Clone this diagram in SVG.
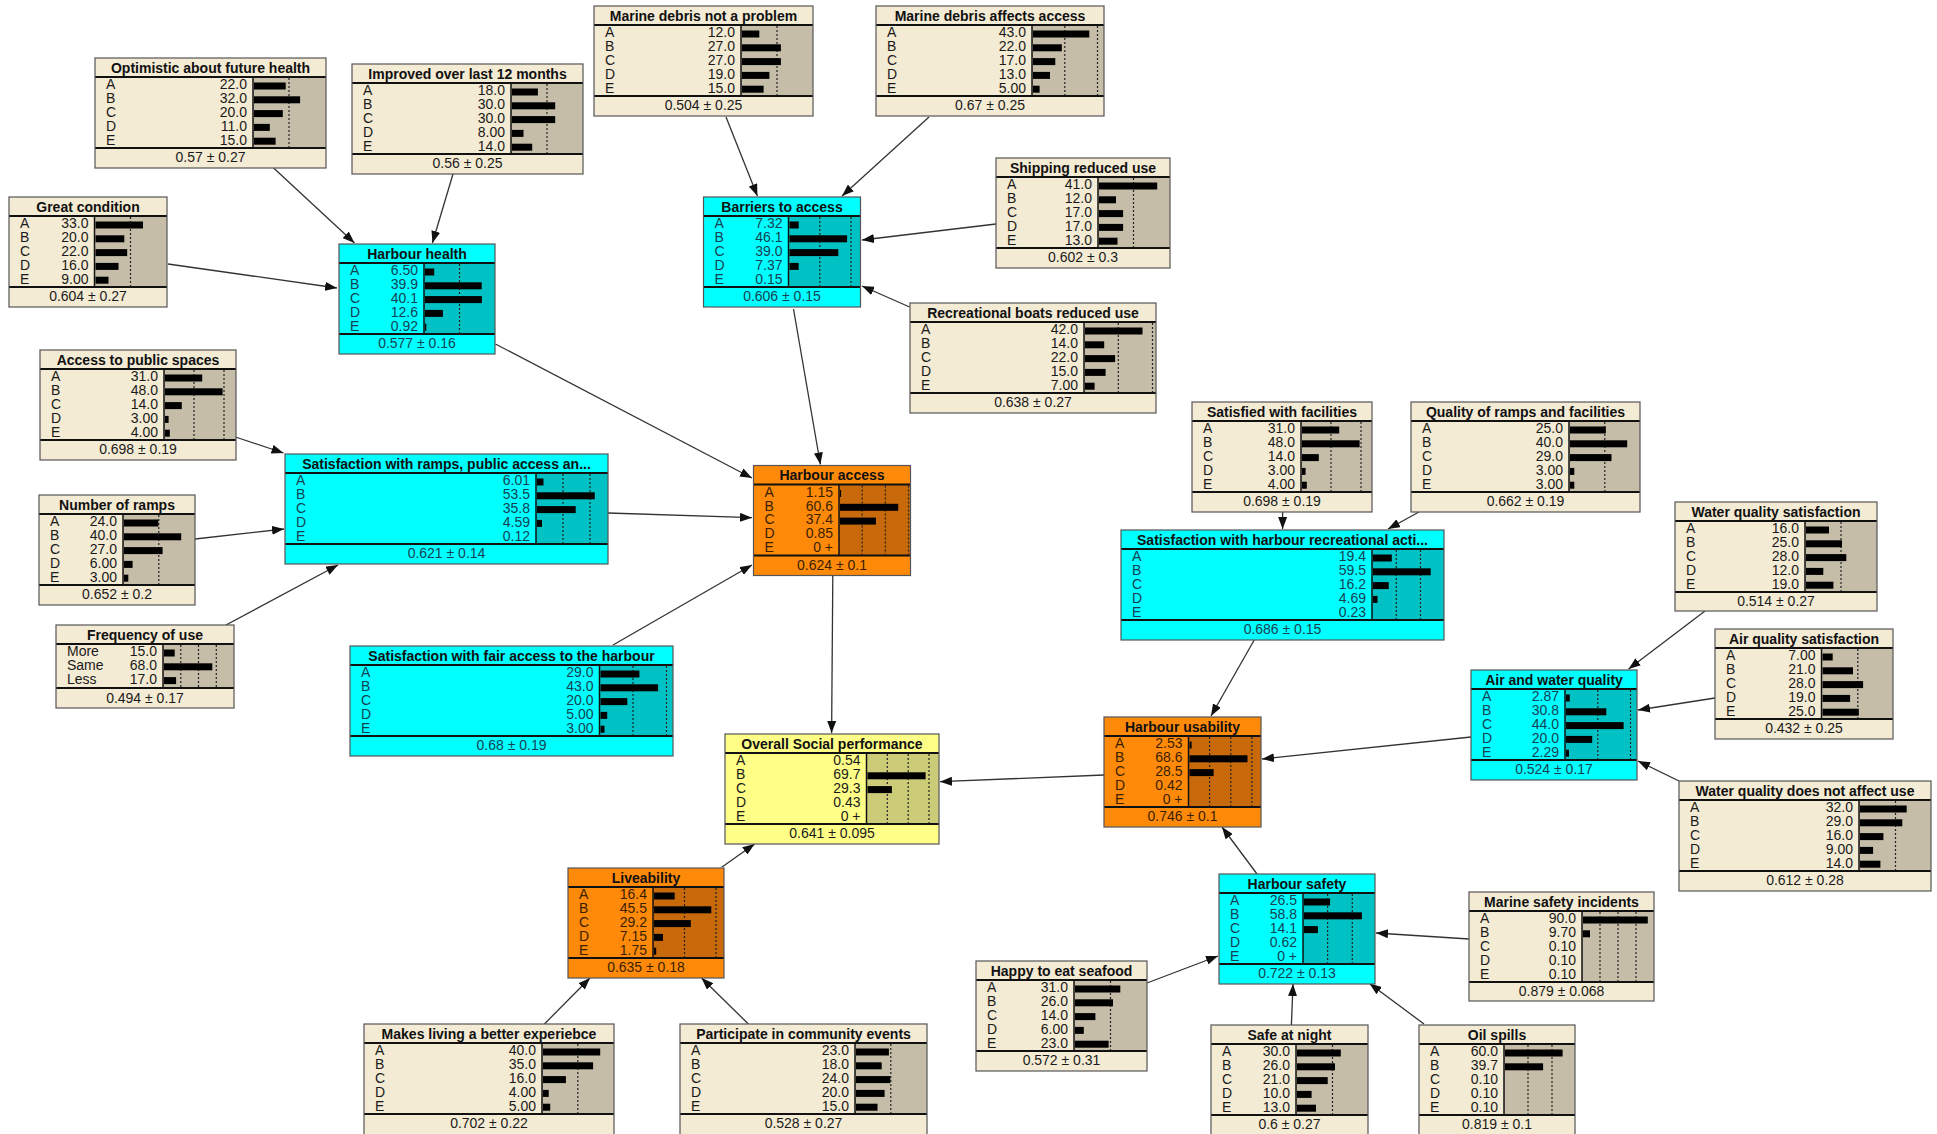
<svg xmlns="http://www.w3.org/2000/svg" width="1937" height="1134" viewBox="0 0 1937 1134">
<defs>
<marker id="arr" markerUnits="userSpaceOnUse" markerWidth="12" markerHeight="9" refX="12" refY="4.5" orient="auto">
<path d="M0,0 L12,4.5 L0,9 z" fill="#111"/>
</marker>
<style>
text{font-family:"Liberation Sans",Arial,sans-serif}
.bb{fill:#f4ebd4}.bc{fill:#00ffff}.bo{fill:#ff8a0a}.by{fill:#ffff88}
.ab{fill:#c6bda9}.ac{fill:#00c2c4}.ao{fill:#c86a0c}.ay{fill:#cccc78}
.ol{fill:none;stroke:#555;stroke-width:1.2}
.sp{stroke:#111;stroke-width:2}
.vl{stroke:#111;stroke-width:1.5}
.g{stroke:#222;stroke-width:1.2;stroke-dasharray:2 2}
.r{fill:#000}
.t{font-size:14px;font-weight:bold;text-anchor:middle;fill:#111}
.s{font-size:14px;fill:#1a1a1a}
.v{font-size:14px;fill:#1a1a1a;text-anchor:end}
.f{font-size:14px;fill:#1a1a1a;text-anchor:middle}
.cy .s,.cy .v,.cy .f{fill:#173f52}
.or .s,.or .v,.or .f{fill:#3a1e00}
.e{stroke:#333;stroke-width:1.3;fill:none;marker-end:url(#arr)}
</style>
</defs>
<rect width="1937" height="1134" fill="#ffffff"/>

<g id="edges">
<line class="e" x1="273.6" y1="168" x2="354.5" y2="243"/>
<line class="e" x1="453" y1="174" x2="432.4" y2="243"/>
<line class="e" x1="168" y1="264" x2="337" y2="288"/>
<line class="e" x1="495.4" y1="344" x2="752" y2="478"/>
<line class="e" x1="726" y1="117" x2="757.4" y2="196"/>
<line class="e" x1="929" y1="117" x2="842" y2="196"/>
<line class="e" x1="996" y1="224" x2="862" y2="240"/>
<line class="e" x1="909.6" y1="307" x2="862" y2="286"/>
<line class="e" x1="793.5" y1="309" x2="820.4" y2="464.5"/>
<line class="e" x1="235.5" y1="437" x2="283.5" y2="453"/>
<line class="e" x1="195" y1="539" x2="284" y2="529"/>
<line class="e" x1="226" y1="625" x2="338" y2="565"/>
<line class="e" x1="608" y1="513" x2="752" y2="517.7"/>
<line class="e" x1="613" y1="645" x2="752" y2="565"/>
<line class="e" x1="832.8" y1="576" x2="831.6" y2="733"/>
<line class="e" x1="722" y1="867" x2="754.6" y2="844"/>
<line class="e" x1="544.4" y1="1024" x2="590" y2="978"/>
<line class="e" x1="748.4" y1="1024" x2="701.5" y2="978"/>
<line class="e" x1="1104" y1="775" x2="940" y2="781.7"/>
<line class="e" x1="1282.6" y1="512" x2="1282.6" y2="529"/>
<line class="e" x1="1419" y1="512" x2="1388" y2="529"/>
<line class="e" x1="1254.8" y1="639" x2="1211" y2="716"/>
<line class="e" x1="1705" y1="611" x2="1628.6" y2="669"/>
<line class="e" x1="1715" y1="698" x2="1638" y2="710"/>
<line class="e" x1="1679" y1="781" x2="1638" y2="761"/>
<line class="e" x1="1471" y1="737" x2="1262" y2="759"/>
<line class="e" x1="1257" y1="874" x2="1222" y2="827"/>
<line class="e" x1="1147" y1="983" x2="1218" y2="956"/>
<line class="e" x1="1291.4" y1="1025" x2="1293" y2="984"/>
<line class="e" x1="1424" y1="1024" x2="1369.5" y2="983.5"/>
<line class="e" x1="1469" y1="939" x2="1376" y2="933"/>
</g>

<g id="n_marine_np" transform="translate(594,6)">
<rect class="bb" width="219" height="110"/>
<rect class="ab" x="147" y="19" width="72" height="71"/>
<line class="g" x1="183" y1="20" x2="183" y2="89"/>
<rect class="r" x="148" y="24.5" width="17.3" height="7"/><rect class="r" x="148" y="38.3" width="38.9" height="7"/><rect class="r" x="148" y="52.1" width="38.9" height="7"/><rect class="r" x="148" y="65.9" width="27.4" height="7"/><rect class="r" x="148" y="79.7" width="21.6" height="7"/>
<line class="sp" x1="0" y1="19" x2="219" y2="19"/><line class="sp" x1="0" y1="90" x2="219" y2="90"/><line class="vl" x1="147" y1="19" x2="147" y2="90"/>
<rect class="ol" width="219" height="110"/>
<text class="t" x="109.5" y="14.5">Marine debris not a problem</text>
<text class="s"><tspan x="11" y="31.3">A</tspan><tspan x="11" y="45.1">B</tspan><tspan x="11" y="58.9">C</tspan><tspan x="11" y="72.7">D</tspan><tspan x="11" y="86.5">E</tspan></text>
<text class="v"><tspan x="141" y="31.3">12.0</tspan><tspan x="141" y="45.1">27.0</tspan><tspan x="141" y="58.9">27.0</tspan><tspan x="141" y="72.7">19.0</tspan><tspan x="141" y="86.5">15.0</tspan></text>
<text class="f" x="109.5" y="104">0.504 ± 0.25</text>
</g>

<g id="n_marine_aff" transform="translate(876,6)">
<rect class="bb" width="228" height="110"/>
<rect class="ab" x="156" y="19" width="72" height="71"/>
<line class="g" x1="188.8" y1="20" x2="188.8" y2="89"/><line class="g" x1="221.5" y1="20" x2="221.5" y2="89"/>
<rect class="r" x="157" y="24.5" width="56.3" height="7"/><rect class="r" x="157" y="38.3" width="28.8" height="7"/><rect class="r" x="157" y="52.1" width="22.3" height="7"/><rect class="r" x="157" y="65.9" width="17" height="7"/><rect class="r" x="157" y="79.7" width="6.6" height="7"/>
<line class="sp" x1="0" y1="19" x2="228" y2="19"/><line class="sp" x1="0" y1="90" x2="228" y2="90"/><line class="vl" x1="156" y1="19" x2="156" y2="90"/>
<rect class="ol" width="228" height="110"/>
<text class="t" x="114" y="14.5">Marine debris affects access</text>
<text class="s"><tspan x="11" y="31.3">A</tspan><tspan x="11" y="45.1">B</tspan><tspan x="11" y="58.9">C</tspan><tspan x="11" y="72.7">D</tspan><tspan x="11" y="86.5">E</tspan></text>
<text class="v"><tspan x="150" y="31.3">43.0</tspan><tspan x="150" y="45.1">22.0</tspan><tspan x="150" y="58.9">17.0</tspan><tspan x="150" y="72.7">13.0</tspan><tspan x="150" y="86.5">5.00</tspan></text>
<text class="f" x="114" y="104">0.67 ± 0.25</text>
</g>

<g id="n_optimistic" transform="translate(95,58)">
<rect class="bb" width="231" height="110"/>
<rect class="ab" x="158" y="19" width="73" height="71"/>
<line class="g" x1="194" y1="20" x2="194" y2="89"/>
<rect class="r" x="159" y="24.5" width="31.7" height="7"/><rect class="r" x="159" y="38.3" width="46.1" height="7"/><rect class="r" x="159" y="52.1" width="28.8" height="7"/><rect class="r" x="159" y="65.9" width="15.8" height="7"/><rect class="r" x="159" y="79.7" width="21.6" height="7"/>
<line class="sp" x1="0" y1="19" x2="231" y2="19"/><line class="sp" x1="0" y1="90" x2="231" y2="90"/><line class="vl" x1="158" y1="19" x2="158" y2="90"/>
<rect class="ol" width="231" height="110"/>
<text class="t" x="115.5" y="14.5">Optimistic about future health</text>
<text class="s"><tspan x="11" y="31.3">A</tspan><tspan x="11" y="45.1">B</tspan><tspan x="11" y="58.9">C</tspan><tspan x="11" y="72.7">D</tspan><tspan x="11" y="86.5">E</tspan></text>
<text class="v"><tspan x="152" y="31.3">22.0</tspan><tspan x="152" y="45.1">32.0</tspan><tspan x="152" y="58.9">20.0</tspan><tspan x="152" y="72.7">11.0</tspan><tspan x="152" y="86.5">15.0</tspan></text>
<text class="f" x="115.5" y="104">0.57 ± 0.27</text>
</g>

<g id="n_improved" transform="translate(352,64)">
<rect class="bb" width="231" height="110"/>
<rect class="ab" x="159" y="19" width="72" height="71"/>
<line class="g" x1="195" y1="20" x2="195" y2="89"/>
<rect class="r" x="160" y="24.5" width="25.9" height="7"/><rect class="r" x="160" y="38.3" width="43.2" height="7"/><rect class="r" x="160" y="52.1" width="43.2" height="7"/><rect class="r" x="160" y="65.9" width="11.5" height="7"/><rect class="r" x="160" y="79.7" width="20.2" height="7"/>
<line class="sp" x1="0" y1="19" x2="231" y2="19"/><line class="sp" x1="0" y1="90" x2="231" y2="90"/><line class="vl" x1="159" y1="19" x2="159" y2="90"/>
<rect class="ol" width="231" height="110"/>
<text class="t" x="115.5" y="14.5">Improved over last 12 months</text>
<text class="s"><tspan x="11" y="31.3">A</tspan><tspan x="11" y="45.1">B</tspan><tspan x="11" y="58.9">C</tspan><tspan x="11" y="72.7">D</tspan><tspan x="11" y="86.5">E</tspan></text>
<text class="v"><tspan x="153" y="31.3">18.0</tspan><tspan x="153" y="45.1">30.0</tspan><tspan x="153" y="58.9">30.0</tspan><tspan x="153" y="72.7">8.00</tspan><tspan x="153" y="86.5">14.0</tspan></text>
<text class="f" x="115.5" y="104">0.56 ± 0.25</text>
</g>

<g id="n_great" transform="translate(9,197)">
<rect class="bb" width="158" height="110"/>
<rect class="ab" x="85.5" y="19" width="72.5" height="71"/>
<line class="g" x1="121.5" y1="20" x2="121.5" y2="89"/>
<rect class="r" x="86.5" y="24.5" width="47.5" height="7"/><rect class="r" x="86.5" y="38.3" width="28.8" height="7"/><rect class="r" x="86.5" y="52.1" width="31.7" height="7"/><rect class="r" x="86.5" y="65.9" width="23" height="7"/><rect class="r" x="86.5" y="79.7" width="13" height="7"/>
<line class="sp" x1="0" y1="19" x2="158" y2="19"/><line class="sp" x1="0" y1="90" x2="158" y2="90"/><line class="vl" x1="85.5" y1="19" x2="85.5" y2="90"/>
<rect class="ol" width="158" height="110"/>
<text class="t" x="79" y="14.5">Great condition</text>
<text class="s"><tspan x="11" y="31.3">A</tspan><tspan x="11" y="45.1">B</tspan><tspan x="11" y="58.9">C</tspan><tspan x="11" y="72.7">D</tspan><tspan x="11" y="86.5">E</tspan></text>
<text class="v"><tspan x="79.5" y="31.3">33.0</tspan><tspan x="79.5" y="45.1">20.0</tspan><tspan x="79.5" y="58.9">22.0</tspan><tspan x="79.5" y="72.7">16.0</tspan><tspan x="79.5" y="86.5">9.00</tspan></text>
<text class="f" x="79" y="104">0.604 ± 0.27</text>
</g>

<g id="n_harbour_health" class="cy" transform="translate(339,244)">
<rect class="bc" width="156" height="110"/>
<rect class="ac" x="85" y="19" width="71" height="71"/>
<line class="g" x1="120.5" y1="20" x2="120.5" y2="89"/>
<rect class="r" x="86" y="24.5" width="9.2" height="7"/><rect class="r" x="86" y="38.3" width="56.7" height="7"/><rect class="r" x="86" y="52.1" width="56.9" height="7"/><rect class="r" x="86" y="65.9" width="17.9" height="7"/><rect class="r" x="86" y="79.7" width="1.3" height="7"/>
<line class="sp" x1="0" y1="19" x2="156" y2="19"/><line class="sp" x1="0" y1="90" x2="156" y2="90"/><line class="vl" x1="85" y1="19" x2="85" y2="90"/>
<rect class="ol" width="156" height="110"/>
<text class="t" x="78" y="14.5">Harbour health</text>
<text class="s"><tspan x="11" y="31.3">A</tspan><tspan x="11" y="45.1">B</tspan><tspan x="11" y="58.9">C</tspan><tspan x="11" y="72.7">D</tspan><tspan x="11" y="86.5">E</tspan></text>
<text class="v"><tspan x="79" y="31.3">6.50</tspan><tspan x="79" y="45.1">39.9</tspan><tspan x="79" y="58.9">40.1</tspan><tspan x="79" y="72.7">12.6</tspan><tspan x="79" y="86.5">0.92</tspan></text>
<text class="f" x="78" y="104">0.577 ± 0.16</text>
</g>

<g id="n_shipping" transform="translate(996,158)">
<rect class="bb" width="174" height="110"/>
<rect class="ab" x="102" y="19" width="72" height="71"/>
<line class="g" x1="137.5" y1="20" x2="137.5" y2="89"/>
<rect class="r" x="103" y="24.5" width="58.2" height="7"/><rect class="r" x="103" y="38.3" width="17" height="7"/><rect class="r" x="103" y="52.1" width="24.1" height="7"/><rect class="r" x="103" y="65.9" width="24.1" height="7"/><rect class="r" x="103" y="79.7" width="18.5" height="7"/>
<line class="sp" x1="0" y1="19" x2="174" y2="19"/><line class="sp" x1="0" y1="90" x2="174" y2="90"/><line class="vl" x1="102" y1="19" x2="102" y2="90"/>
<rect class="ol" width="174" height="110"/>
<text class="t" x="87" y="14.5">Shipping reduced use</text>
<text class="s"><tspan x="11" y="31.3">A</tspan><tspan x="11" y="45.1">B</tspan><tspan x="11" y="58.9">C</tspan><tspan x="11" y="72.7">D</tspan><tspan x="11" y="86.5">E</tspan></text>
<text class="v"><tspan x="96" y="31.3">41.0</tspan><tspan x="96" y="45.1">12.0</tspan><tspan x="96" y="58.9">17.0</tspan><tspan x="96" y="72.7">17.0</tspan><tspan x="96" y="86.5">13.0</tspan></text>
<text class="f" x="87" y="104">0.602 ± 0.3</text>
</g>

<g id="n_barriers" class="cy" transform="translate(703.5,197)">
<rect class="bc" width="157" height="110"/>
<rect class="ac" x="85" y="19" width="72" height="71"/>
<line class="g" x1="116.3" y1="20" x2="116.3" y2="89"/><line class="g" x1="147.5" y1="20" x2="147.5" y2="89"/>
<rect class="r" x="86" y="24.5" width="9.2" height="7"/><rect class="r" x="86" y="38.3" width="57.6" height="7"/><rect class="r" x="86" y="52.1" width="48.8" height="7"/><rect class="r" x="86" y="65.9" width="9.2" height="7"/>
<line class="sp" x1="0" y1="19" x2="157" y2="19"/><line class="sp" x1="0" y1="90" x2="157" y2="90"/><line class="vl" x1="85" y1="19" x2="85" y2="90"/>
<rect class="ol" width="157" height="110"/>
<text class="t" x="78.5" y="14.5">Barriers to access</text>
<text class="s"><tspan x="11" y="31.3">A</tspan><tspan x="11" y="45.1">B</tspan><tspan x="11" y="58.9">C</tspan><tspan x="11" y="72.7">D</tspan><tspan x="11" y="86.5">E</tspan></text>
<text class="v"><tspan x="79" y="31.3">7.32</tspan><tspan x="79" y="45.1">46.1</tspan><tspan x="79" y="58.9">39.0</tspan><tspan x="79" y="72.7">7.37</tspan><tspan x="79" y="86.5">0.15</tspan></text>
<text class="f" x="78.5" y="104">0.606 ± 0.15</text>
</g>

<g id="n_recreational" transform="translate(910,303)">
<rect class="bb" width="246" height="110"/>
<rect class="ab" x="174" y="19" width="72" height="71"/>
<line class="g" x1="208.3" y1="20" x2="208.3" y2="89"/><line class="g" x1="242.5" y1="20" x2="242.5" y2="89"/>
<rect class="r" x="175" y="24.5" width="57.5" height="7"/><rect class="r" x="175" y="38.3" width="19.2" height="7"/><rect class="r" x="175" y="52.1" width="30.1" height="7"/><rect class="r" x="175" y="65.9" width="20.6" height="7"/><rect class="r" x="175" y="79.7" width="9.6" height="7"/>
<line class="sp" x1="0" y1="19" x2="246" y2="19"/><line class="sp" x1="0" y1="90" x2="246" y2="90"/><line class="vl" x1="174" y1="19" x2="174" y2="90"/>
<rect class="ol" width="246" height="110"/>
<text class="t" x="123" y="14.5">Recreational boats reduced use</text>
<text class="s"><tspan x="11" y="31.3">A</tspan><tspan x="11" y="45.1">B</tspan><tspan x="11" y="58.9">C</tspan><tspan x="11" y="72.7">D</tspan><tspan x="11" y="86.5">E</tspan></text>
<text class="v"><tspan x="168" y="31.3">42.0</tspan><tspan x="168" y="45.1">14.0</tspan><tspan x="168" y="58.9">22.0</tspan><tspan x="168" y="72.7">15.0</tspan><tspan x="168" y="86.5">7.00</tspan></text>
<text class="f" x="123" y="104">0.638 ± 0.27</text>
</g>

<g id="n_access_public" transform="translate(40,350)">
<rect class="bb" width="196" height="110"/>
<rect class="ab" x="124" y="19" width="72" height="71"/>
<line class="g" x1="154" y1="20" x2="154" y2="89"/><line class="g" x1="184" y1="20" x2="184" y2="89"/>
<rect class="r" x="125" y="24.5" width="37.2" height="7"/><rect class="r" x="125" y="38.3" width="57.6" height="7"/><rect class="r" x="125" y="52.1" width="16.8" height="7"/><rect class="r" x="125" y="65.9" width="3.6" height="7"/><rect class="r" x="125" y="79.7" width="4.8" height="7"/>
<line class="sp" x1="0" y1="19" x2="196" y2="19"/><line class="sp" x1="0" y1="90" x2="196" y2="90"/><line class="vl" x1="124" y1="19" x2="124" y2="90"/>
<rect class="ol" width="196" height="110"/>
<text class="t" x="98" y="14.5">Access to public spaces</text>
<text class="s"><tspan x="11" y="31.3">A</tspan><tspan x="11" y="45.1">B</tspan><tspan x="11" y="58.9">C</tspan><tspan x="11" y="72.7">D</tspan><tspan x="11" y="86.5">E</tspan></text>
<text class="v"><tspan x="118" y="31.3">31.0</tspan><tspan x="118" y="45.1">48.0</tspan><tspan x="118" y="58.9">14.0</tspan><tspan x="118" y="72.7">3.00</tspan><tspan x="118" y="86.5">4.00</tspan></text>
<text class="f" x="98" y="104">0.698 ± 0.19</text>
</g>

<g id="n_sat_ramps" class="cy" transform="translate(285,454)">
<rect class="bc" width="323" height="110"/>
<rect class="ac" x="251" y="19" width="72" height="71"/>
<line class="g" x1="278" y1="20" x2="278" y2="89"/><line class="g" x1="305" y1="20" x2="305" y2="89"/>
<rect class="r" x="252" y="24.5" width="6.5" height="7"/><rect class="r" x="252" y="38.3" width="57.8" height="7"/><rect class="r" x="252" y="52.1" width="38.7" height="7"/><rect class="r" x="252" y="65.9" width="5" height="7"/>
<line class="sp" x1="0" y1="19" x2="323" y2="19"/><line class="sp" x1="0" y1="90" x2="323" y2="90"/><line class="vl" x1="251" y1="19" x2="251" y2="90"/>
<rect class="ol" width="323" height="110"/>
<text class="t" x="161.5" y="14.5">Satisfaction with ramps, public access an...</text>
<text class="s"><tspan x="11" y="31.3">A</tspan><tspan x="11" y="45.1">B</tspan><tspan x="11" y="58.9">C</tspan><tspan x="11" y="72.7">D</tspan><tspan x="11" y="86.5">E</tspan></text>
<text class="v"><tspan x="245" y="31.3">6.01</tspan><tspan x="245" y="45.1">53.5</tspan><tspan x="245" y="58.9">35.8</tspan><tspan x="245" y="72.7">4.59</tspan><tspan x="245" y="86.5">0.12</tspan></text>
<text class="f" x="161.5" y="104">0.621 ± 0.14</text>
</g>

<g id="n_num_ramps" transform="translate(39,495)">
<rect class="bb" width="156" height="110"/>
<rect class="ab" x="84" y="19" width="72" height="71"/>
<line class="g" x1="119.8" y1="20" x2="119.8" y2="89"/>
<rect class="r" x="85" y="24.5" width="34.3" height="7"/><rect class="r" x="85" y="38.3" width="57.2" height="7"/><rect class="r" x="85" y="52.1" width="38.6" height="7"/><rect class="r" x="85" y="65.9" width="8.6" height="7"/><rect class="r" x="85" y="79.7" width="4.3" height="7"/>
<line class="sp" x1="0" y1="19" x2="156" y2="19"/><line class="sp" x1="0" y1="90" x2="156" y2="90"/><line class="vl" x1="84" y1="19" x2="84" y2="90"/>
<rect class="ol" width="156" height="110"/>
<text class="t" x="78" y="14.5">Number of ramps</text>
<text class="s"><tspan x="11" y="31.3">A</tspan><tspan x="11" y="45.1">B</tspan><tspan x="11" y="58.9">C</tspan><tspan x="11" y="72.7">D</tspan><tspan x="11" y="86.5">E</tspan></text>
<text class="v"><tspan x="78" y="31.3">24.0</tspan><tspan x="78" y="45.1">40.0</tspan><tspan x="78" y="58.9">27.0</tspan><tspan x="78" y="72.7">6.00</tspan><tspan x="78" y="86.5">3.00</tspan></text>
<text class="f" x="78" y="104">0.652 ± 0.2</text>
</g>

<g id="n_frequency" transform="translate(56,625)">
<rect class="bb" width="178" height="83"/>
<rect class="ab" x="107" y="19" width="71" height="44"/>
<line class="g" x1="124.8" y1="20" x2="124.8" y2="62"/><line class="g" x1="142.5" y1="20" x2="142.5" y2="62"/><line class="g" x1="160.3" y1="20" x2="160.3" y2="62"/>
<rect class="r" x="108" y="24.5" width="10.7" height="7"/><rect class="r" x="108" y="38.3" width="48.3" height="7"/><rect class="r" x="108" y="52.1" width="12.1" height="7"/>
<line class="sp" x1="0" y1="19" x2="178" y2="19"/><line class="sp" x1="0" y1="63" x2="178" y2="63"/><line class="vl" x1="107" y1="19" x2="107" y2="63"/>
<rect class="ol" width="178" height="83"/>
<text class="t" x="89" y="14.5">Frequency of use</text>
<text class="s"><tspan x="11" y="31.3">More</tspan><tspan x="11" y="45.1">Same</tspan><tspan x="11" y="58.9">Less</tspan></text>
<text class="v"><tspan x="101" y="31.3">15.0</tspan><tspan x="101" y="45.1">68.0</tspan><tspan x="101" y="58.9">17.0</tspan></text>
<text class="f" x="89" y="77.5">0.494 ± 0.17</text>
</g>

<g id="n_fair_access" class="cy" transform="translate(350,646)">
<rect class="bc" width="323" height="110"/>
<rect class="ac" x="249.5" y="19" width="73.5" height="71"/>
<line class="g" x1="283" y1="20" x2="283" y2="89"/><line class="g" x1="316.5" y1="20" x2="316.5" y2="89"/>
<rect class="r" x="250.5" y="24.5" width="38.9" height="7"/><rect class="r" x="250.5" y="38.3" width="57.6" height="7"/><rect class="r" x="250.5" y="52.1" width="26.8" height="7"/><rect class="r" x="250.5" y="65.9" width="6.7" height="7"/><rect class="r" x="250.5" y="79.7" width="4" height="7"/>
<line class="sp" x1="0" y1="19" x2="323" y2="19"/><line class="sp" x1="0" y1="90" x2="323" y2="90"/><line class="vl" x1="249.5" y1="19" x2="249.5" y2="90"/>
<rect class="ol" width="323" height="110"/>
<text class="t" x="161.5" y="14.5">Satisfaction with fair access to the harbour</text>
<text class="s"><tspan x="11" y="31.3">A</tspan><tspan x="11" y="45.1">B</tspan><tspan x="11" y="58.9">C</tspan><tspan x="11" y="72.7">D</tspan><tspan x="11" y="86.5">E</tspan></text>
<text class="v"><tspan x="243.5" y="31.3">29.0</tspan><tspan x="243.5" y="45.1">43.0</tspan><tspan x="243.5" y="58.9">20.0</tspan><tspan x="243.5" y="72.7">5.00</tspan><tspan x="243.5" y="86.5">3.00</tspan></text>
<text class="f" x="161.5" y="104">0.68 ± 0.19</text>
</g>

<g id="n_harbour_access" class="or" transform="translate(753.5,465.5)">
<rect class="bo" width="157" height="110"/>
<rect class="ao" x="85.5" y="19" width="71.5" height="71"/>
<line class="g" x1="108.7" y1="20" x2="108.7" y2="89"/><line class="g" x1="131.9" y1="20" x2="131.9" y2="89"/><line class="g" x1="155" y1="20" x2="155" y2="89"/>
<rect class="r" x="86.5" y="24.5" width="1.1" height="7"/><rect class="r" x="86.5" y="38.3" width="58.2" height="7"/><rect class="r" x="86.5" y="52.1" width="35.9" height="7"/>
<line class="sp" x1="0" y1="19" x2="157" y2="19"/><line class="sp" x1="0" y1="90" x2="157" y2="90"/><line class="vl" x1="85.5" y1="19" x2="85.5" y2="90"/>
<rect class="ol" width="157" height="110"/>
<text class="t" x="78.5" y="14.5">Harbour access</text>
<text class="s"><tspan x="11" y="31.3">A</tspan><tspan x="11" y="45.1">B</tspan><tspan x="11" y="58.9">C</tspan><tspan x="11" y="72.7">D</tspan><tspan x="11" y="86.5">E</tspan></text>
<text class="v"><tspan x="79.5" y="31.3">1.15</tspan><tspan x="79.5" y="45.1">60.6</tspan><tspan x="79.5" y="58.9">37.4</tspan><tspan x="79.5" y="72.7">0.85</tspan><tspan x="79.5" y="86.5">0 +</tspan></text>
<text class="f" x="78.5" y="104">0.624 ± 0.1</text>
</g>

<g id="n_overall" transform="translate(725,734)">
<rect class="by" width="214" height="110"/>
<rect class="ay" x="141.5" y="19" width="72.5" height="71"/>
<line class="g" x1="162.3" y1="20" x2="162.3" y2="89"/><line class="g" x1="183.2" y1="20" x2="183.2" y2="89"/><line class="g" x1="204" y1="20" x2="204" y2="89"/>
<rect class="r" x="142.5" y="38.3" width="58.1" height="7"/><rect class="r" x="142.5" y="52.1" width="24.4" height="7"/>
<line class="sp" x1="0" y1="19" x2="214" y2="19"/><line class="sp" x1="0" y1="90" x2="214" y2="90"/><line class="vl" x1="141.5" y1="19" x2="141.5" y2="90"/>
<rect class="ol" width="214" height="110"/>
<text class="t" x="107" y="14.5">Overall Social performance</text>
<text class="s"><tspan x="11" y="31.3">A</tspan><tspan x="11" y="45.1">B</tspan><tspan x="11" y="58.9">C</tspan><tspan x="11" y="72.7">D</tspan><tspan x="11" y="86.5">E</tspan></text>
<text class="v"><tspan x="135.5" y="31.3">0.54</tspan><tspan x="135.5" y="45.1">69.7</tspan><tspan x="135.5" y="58.9">29.3</tspan><tspan x="135.5" y="72.7">0.43</tspan><tspan x="135.5" y="86.5">0 +</tspan></text>
<text class="f" x="107" y="104">0.641 ± 0.095</text>
</g>

<g id="n_liveability" class="or" transform="translate(568,868)">
<rect class="bo" width="156" height="110"/>
<rect class="ao" x="85" y="19" width="71" height="71"/>
<line class="g" x1="116.5" y1="20" x2="116.5" y2="89"/><line class="g" x1="148" y1="20" x2="148" y2="89"/>
<rect class="r" x="86" y="24.5" width="20.7" height="7"/><rect class="r" x="86" y="38.3" width="57.3" height="7"/><rect class="r" x="86" y="52.1" width="36.8" height="7"/><rect class="r" x="86" y="65.9" width="9" height="7"/><rect class="r" x="86" y="79.7" width="2.2" height="7"/>
<line class="sp" x1="0" y1="19" x2="156" y2="19"/><line class="sp" x1="0" y1="90" x2="156" y2="90"/><line class="vl" x1="85" y1="19" x2="85" y2="90"/>
<rect class="ol" width="156" height="110"/>
<text class="t" x="78" y="14.5">Liveability</text>
<text class="s"><tspan x="11" y="31.3">A</tspan><tspan x="11" y="45.1">B</tspan><tspan x="11" y="58.9">C</tspan><tspan x="11" y="72.7">D</tspan><tspan x="11" y="86.5">E</tspan></text>
<text class="v"><tspan x="79" y="31.3">16.4</tspan><tspan x="79" y="45.1">45.5</tspan><tspan x="79" y="58.9">29.2</tspan><tspan x="79" y="72.7">7.15</tspan><tspan x="79" y="86.5">1.75</tspan></text>
<text class="f" x="78" y="104">0.635 ± 0.18</text>
</g>

<g id="n_makes_living" transform="translate(364,1024)">
<rect class="bb" width="250" height="114"/>
<rect class="ab" x="178" y="19" width="72" height="71"/>
<line class="g" x1="213.8" y1="20" x2="213.8" y2="89"/>
<rect class="r" x="179" y="24.5" width="57.2" height="7"/><rect class="r" x="179" y="38.3" width="50.1" height="7"/><rect class="r" x="179" y="52.1" width="22.9" height="7"/><rect class="r" x="179" y="65.9" width="5.7" height="7"/><rect class="r" x="179" y="79.7" width="7.2" height="7"/>
<line class="sp" x1="0" y1="19" x2="250" y2="19"/><line class="sp" x1="0" y1="90" x2="250" y2="90"/><line class="vl" x1="178" y1="19" x2="178" y2="90"/>
<rect class="ol" width="250" height="114"/>
<text class="t" x="125" y="14.5">Makes living a better experiebce</text>
<text class="s"><tspan x="11" y="31.3">A</tspan><tspan x="11" y="45.1">B</tspan><tspan x="11" y="58.9">C</tspan><tspan x="11" y="72.7">D</tspan><tspan x="11" y="86.5">E</tspan></text>
<text class="v"><tspan x="172" y="31.3">40.0</tspan><tspan x="172" y="45.1">35.0</tspan><tspan x="172" y="58.9">16.0</tspan><tspan x="172" y="72.7">4.00</tspan><tspan x="172" y="86.5">5.00</tspan></text>
<text class="f" x="125" y="104">0.702 ± 0.22</text>
</g>

<g id="n_participate" transform="translate(680,1024)">
<rect class="bb" width="247" height="114"/>
<rect class="ab" x="175" y="19" width="72" height="71"/>
<line class="g" x1="210.8" y1="20" x2="210.8" y2="89"/>
<rect class="r" x="176" y="24.5" width="32.9" height="7"/><rect class="r" x="176" y="38.3" width="25.7" height="7"/><rect class="r" x="176" y="52.1" width="34.3" height="7"/><rect class="r" x="176" y="65.9" width="28.6" height="7"/><rect class="r" x="176" y="79.7" width="21.5" height="7"/>
<line class="sp" x1="0" y1="19" x2="247" y2="19"/><line class="sp" x1="0" y1="90" x2="247" y2="90"/><line class="vl" x1="175" y1="19" x2="175" y2="90"/>
<rect class="ol" width="247" height="114"/>
<text class="t" x="123.5" y="14.5">Participate in community events</text>
<text class="s"><tspan x="11" y="31.3">A</tspan><tspan x="11" y="45.1">B</tspan><tspan x="11" y="58.9">C</tspan><tspan x="11" y="72.7">D</tspan><tspan x="11" y="86.5">E</tspan></text>
<text class="v"><tspan x="169" y="31.3">23.0</tspan><tspan x="169" y="45.1">18.0</tspan><tspan x="169" y="58.9">24.0</tspan><tspan x="169" y="72.7">20.0</tspan><tspan x="169" y="86.5">15.0</tspan></text>
<text class="f" x="123.5" y="104">0.528 ± 0.27</text>
</g>

<g id="n_sat_facilities" transform="translate(1192,402)">
<rect class="bb" width="180" height="110"/>
<rect class="ab" x="109" y="19" width="71" height="71"/>
<line class="g" x1="139" y1="20" x2="139" y2="89"/><line class="g" x1="169" y1="20" x2="169" y2="89"/>
<rect class="r" x="110" y="24.5" width="37.2" height="7"/><rect class="r" x="110" y="38.3" width="57.6" height="7"/><rect class="r" x="110" y="52.1" width="16.8" height="7"/><rect class="r" x="110" y="65.9" width="3.6" height="7"/><rect class="r" x="110" y="79.7" width="4.8" height="7"/>
<line class="sp" x1="0" y1="19" x2="180" y2="19"/><line class="sp" x1="0" y1="90" x2="180" y2="90"/><line class="vl" x1="109" y1="19" x2="109" y2="90"/>
<rect class="ol" width="180" height="110"/>
<text class="t" x="90" y="14.5">Satisfied with facilities</text>
<text class="s"><tspan x="11" y="31.3">A</tspan><tspan x="11" y="45.1">B</tspan><tspan x="11" y="58.9">C</tspan><tspan x="11" y="72.7">D</tspan><tspan x="11" y="86.5">E</tspan></text>
<text class="v"><tspan x="103" y="31.3">31.0</tspan><tspan x="103" y="45.1">48.0</tspan><tspan x="103" y="58.9">14.0</tspan><tspan x="103" y="72.7">3.00</tspan><tspan x="103" y="86.5">4.00</tspan></text>
<text class="f" x="90" y="104">0.698 ± 0.19</text>
</g>

<g id="n_quality_ramps" transform="translate(1411,402)">
<rect class="bb" width="229" height="110"/>
<rect class="ab" x="158" y="19" width="71" height="71"/>
<line class="g" x1="193.8" y1="20" x2="193.8" y2="89"/>
<rect class="r" x="159" y="24.5" width="35.8" height="7"/><rect class="r" x="159" y="38.3" width="57.2" height="7"/><rect class="r" x="159" y="52.1" width="41.5" height="7"/><rect class="r" x="159" y="65.9" width="4.3" height="7"/><rect class="r" x="159" y="79.7" width="4.3" height="7"/>
<line class="sp" x1="0" y1="19" x2="229" y2="19"/><line class="sp" x1="0" y1="90" x2="229" y2="90"/><line class="vl" x1="158" y1="19" x2="158" y2="90"/>
<rect class="ol" width="229" height="110"/>
<text class="t" x="114.5" y="14.5">Quality of ramps and facilities</text>
<text class="s"><tspan x="11" y="31.3">A</tspan><tspan x="11" y="45.1">B</tspan><tspan x="11" y="58.9">C</tspan><tspan x="11" y="72.7">D</tspan><tspan x="11" y="86.5">E</tspan></text>
<text class="v"><tspan x="152" y="31.3">25.0</tspan><tspan x="152" y="45.1">40.0</tspan><tspan x="152" y="58.9">29.0</tspan><tspan x="152" y="72.7">3.00</tspan><tspan x="152" y="86.5">3.00</tspan></text>
<text class="f" x="114.5" y="104">0.662 ± 0.19</text>
</g>

<g id="n_water_sat" transform="translate(1675,502)">
<rect class="bb" width="202" height="109"/>
<rect class="ab" x="130" y="19" width="72" height="71"/>
<line class="g" x1="166" y1="20" x2="166" y2="89"/>
<rect class="r" x="131" y="24.5" width="23" height="7"/><rect class="r" x="131" y="38.3" width="36" height="7"/><rect class="r" x="131" y="52.1" width="40.3" height="7"/><rect class="r" x="131" y="65.9" width="17.3" height="7"/><rect class="r" x="131" y="79.7" width="27.4" height="7"/>
<line class="sp" x1="0" y1="19" x2="202" y2="19"/><line class="sp" x1="0" y1="90" x2="202" y2="90"/><line class="vl" x1="130" y1="19" x2="130" y2="90"/>
<rect class="ol" width="202" height="109"/>
<text class="t" x="101" y="14.5">Water quality satisfaction</text>
<text class="s"><tspan x="11" y="31.3">A</tspan><tspan x="11" y="45.1">B</tspan><tspan x="11" y="58.9">C</tspan><tspan x="11" y="72.7">D</tspan><tspan x="11" y="86.5">E</tspan></text>
<text class="v"><tspan x="124" y="31.3">16.0</tspan><tspan x="124" y="45.1">25.0</tspan><tspan x="124" y="58.9">28.0</tspan><tspan x="124" y="72.7">12.0</tspan><tspan x="124" y="86.5">19.0</tspan></text>
<text class="f" x="101" y="104">0.514 ± 0.27</text>
</g>

<g id="n_sat_rec" class="cy" transform="translate(1121,530)">
<rect class="bc" width="323" height="110"/>
<rect class="ac" x="251" y="19" width="72" height="71"/>
<line class="g" x1="275.3" y1="20" x2="275.3" y2="89"/><line class="g" x1="299.5" y1="20" x2="299.5" y2="89"/>
<rect class="r" x="252" y="24.5" width="18.8" height="7"/><rect class="r" x="252" y="38.3" width="57.7" height="7"/><rect class="r" x="252" y="52.1" width="15.7" height="7"/><rect class="r" x="252" y="65.9" width="4.5" height="7"/>
<line class="sp" x1="0" y1="19" x2="323" y2="19"/><line class="sp" x1="0" y1="90" x2="323" y2="90"/><line class="vl" x1="251" y1="19" x2="251" y2="90"/>
<rect class="ol" width="323" height="110"/>
<text class="t" x="161.5" y="14.5">Satisfaction with harbour recreational acti...</text>
<text class="s"><tspan x="11" y="31.3">A</tspan><tspan x="11" y="45.1">B</tspan><tspan x="11" y="58.9">C</tspan><tspan x="11" y="72.7">D</tspan><tspan x="11" y="86.5">E</tspan></text>
<text class="v"><tspan x="245" y="31.3">19.4</tspan><tspan x="245" y="45.1">59.5</tspan><tspan x="245" y="58.9">16.2</tspan><tspan x="245" y="72.7">4.69</tspan><tspan x="245" y="86.5">0.23</tspan></text>
<text class="f" x="161.5" y="104">0.686 ± 0.15</text>
</g>

<g id="n_air_sat" transform="translate(1715,629)">
<rect class="bb" width="178" height="110"/>
<rect class="ab" x="106.5" y="19" width="71.5" height="71"/>
<line class="g" x1="142.8" y1="20" x2="142.8" y2="89"/>
<rect class="r" x="107.5" y="24.5" width="10.2" height="7"/><rect class="r" x="107.5" y="38.3" width="30.5" height="7"/><rect class="r" x="107.5" y="52.1" width="40.6" height="7"/><rect class="r" x="107.5" y="65.9" width="27.6" height="7"/><rect class="r" x="107.5" y="79.7" width="36.3" height="7"/>
<line class="sp" x1="0" y1="19" x2="178" y2="19"/><line class="sp" x1="0" y1="90" x2="178" y2="90"/><line class="vl" x1="106.5" y1="19" x2="106.5" y2="90"/>
<rect class="ol" width="178" height="110"/>
<text class="t" x="89" y="14.5">Air quality satisfaction</text>
<text class="s"><tspan x="11" y="31.3">A</tspan><tspan x="11" y="45.1">B</tspan><tspan x="11" y="58.9">C</tspan><tspan x="11" y="72.7">D</tspan><tspan x="11" y="86.5">E</tspan></text>
<text class="v"><tspan x="100.5" y="31.3">7.00</tspan><tspan x="100.5" y="45.1">21.0</tspan><tspan x="100.5" y="58.9">28.0</tspan><tspan x="100.5" y="72.7">19.0</tspan><tspan x="100.5" y="86.5">25.0</tspan></text>
<text class="f" x="89" y="104">0.432 ± 0.25</text>
</g>

<g id="n_air_water" class="cy" transform="translate(1471,670)">
<rect class="bc" width="166" height="110"/>
<rect class="ac" x="94" y="19" width="72" height="71"/>
<line class="g" x1="126.8" y1="20" x2="126.8" y2="89"/><line class="g" x1="159.5" y1="20" x2="159.5" y2="89"/>
<rect class="r" x="95" y="24.5" width="3.8" height="7"/><rect class="r" x="95" y="38.3" width="40.3" height="7"/><rect class="r" x="95" y="52.1" width="57.6" height="7"/><rect class="r" x="95" y="65.9" width="26.2" height="7"/><rect class="r" x="95" y="79.7" width="3" height="7"/>
<line class="sp" x1="0" y1="19" x2="166" y2="19"/><line class="sp" x1="0" y1="90" x2="166" y2="90"/><line class="vl" x1="94" y1="19" x2="94" y2="90"/>
<rect class="ol" width="166" height="110"/>
<text class="t" x="83" y="14.5">Air and water quality</text>
<text class="s"><tspan x="11" y="31.3">A</tspan><tspan x="11" y="45.1">B</tspan><tspan x="11" y="58.9">C</tspan><tspan x="11" y="72.7">D</tspan><tspan x="11" y="86.5">E</tspan></text>
<text class="v"><tspan x="88" y="31.3">2.87</tspan><tspan x="88" y="45.1">30.8</tspan><tspan x="88" y="58.9">44.0</tspan><tspan x="88" y="72.7">20.0</tspan><tspan x="88" y="86.5">2.29</tspan></text>
<text class="f" x="83" y="104">0.524 ± 0.17</text>
</g>

<g id="n_water_not" transform="translate(1679,781)">
<rect class="bb" width="252" height="110"/>
<rect class="ab" x="180" y="19" width="72" height="71"/>
<line class="g" x1="216.5" y1="20" x2="216.5" y2="89"/>
<rect class="r" x="181" y="24.5" width="46.7" height="7"/><rect class="r" x="181" y="38.3" width="42.3" height="7"/><rect class="r" x="181" y="52.1" width="23.4" height="7"/><rect class="r" x="181" y="65.9" width="13.1" height="7"/><rect class="r" x="181" y="79.7" width="20.4" height="7"/>
<line class="sp" x1="0" y1="19" x2="252" y2="19"/><line class="sp" x1="0" y1="90" x2="252" y2="90"/><line class="vl" x1="180" y1="19" x2="180" y2="90"/>
<rect class="ol" width="252" height="110"/>
<text class="t" x="126" y="14.5">Water quality does not affect use</text>
<text class="s"><tspan x="11" y="31.3">A</tspan><tspan x="11" y="45.1">B</tspan><tspan x="11" y="58.9">C</tspan><tspan x="11" y="72.7">D</tspan><tspan x="11" y="86.5">E</tspan></text>
<text class="v"><tspan x="174" y="31.3">32.0</tspan><tspan x="174" y="45.1">29.0</tspan><tspan x="174" y="58.9">16.0</tspan><tspan x="174" y="72.7">9.00</tspan><tspan x="174" y="86.5">14.0</tspan></text>
<text class="f" x="126" y="104">0.612 ± 0.28</text>
</g>

<g id="n_usability" class="or" transform="translate(1104,717)">
<rect class="bo" width="157" height="110"/>
<rect class="ao" x="84.5" y="19" width="72.5" height="71"/>
<line class="g" x1="105.6" y1="20" x2="105.6" y2="89"/><line class="g" x1="126.8" y1="20" x2="126.8" y2="89"/><line class="g" x1="147.9" y1="20" x2="147.9" y2="89"/>
<rect class="r" x="85.5" y="24.5" width="2.1" height="7"/><rect class="r" x="85.5" y="38.3" width="58" height="7"/><rect class="r" x="85.5" y="52.1" width="24.1" height="7"/>
<line class="sp" x1="0" y1="19" x2="157" y2="19"/><line class="sp" x1="0" y1="90" x2="157" y2="90"/><line class="vl" x1="84.5" y1="19" x2="84.5" y2="90"/>
<rect class="ol" width="157" height="110"/>
<text class="t" x="78.5" y="14.5">Harbour usability</text>
<text class="s"><tspan x="11" y="31.3">A</tspan><tspan x="11" y="45.1">B</tspan><tspan x="11" y="58.9">C</tspan><tspan x="11" y="72.7">D</tspan><tspan x="11" y="86.5">E</tspan></text>
<text class="v"><tspan x="78.5" y="31.3">2.53</tspan><tspan x="78.5" y="45.1">68.6</tspan><tspan x="78.5" y="58.9">28.5</tspan><tspan x="78.5" y="72.7">0.42</tspan><tspan x="78.5" y="86.5">0 +</tspan></text>
<text class="f" x="78.5" y="104">0.746 ± 0.1</text>
</g>

<g id="n_safety" class="cy" transform="translate(1219,874)">
<rect class="bc" width="156" height="110"/>
<rect class="ac" x="84" y="19" width="72" height="71"/>
<line class="g" x1="108.6" y1="20" x2="108.6" y2="89"/><line class="g" x1="133.3" y1="20" x2="133.3" y2="89"/>
<rect class="r" x="85" y="24.5" width="26.1" height="7"/><rect class="r" x="85" y="38.3" width="57.9" height="7"/><rect class="r" x="85" y="52.1" width="13.9" height="7"/>
<line class="sp" x1="0" y1="19" x2="156" y2="19"/><line class="sp" x1="0" y1="90" x2="156" y2="90"/><line class="vl" x1="84" y1="19" x2="84" y2="90"/>
<rect class="ol" width="156" height="110"/>
<text class="t" x="78" y="14.5">Harbour safety</text>
<text class="s"><tspan x="11" y="31.3">A</tspan><tspan x="11" y="45.1">B</tspan><tspan x="11" y="58.9">C</tspan><tspan x="11" y="72.7">D</tspan><tspan x="11" y="86.5">E</tspan></text>
<text class="v"><tspan x="78" y="31.3">26.5</tspan><tspan x="78" y="45.1">58.8</tspan><tspan x="78" y="58.9">14.1</tspan><tspan x="78" y="72.7">0.62</tspan><tspan x="78" y="86.5">0 +</tspan></text>
<text class="f" x="78" y="104">0.722 ± 0.13</text>
</g>

<g id="n_seafood" transform="translate(976,961)">
<rect class="bb" width="171" height="110"/>
<rect class="ab" x="98" y="19" width="73" height="71"/>
<line class="g" x1="134.5" y1="20" x2="134.5" y2="89"/>
<rect class="r" x="99" y="24.5" width="45.3" height="7"/><rect class="r" x="99" y="38.3" width="38" height="7"/><rect class="r" x="99" y="52.1" width="20.4" height="7"/><rect class="r" x="99" y="65.9" width="8.8" height="7"/><rect class="r" x="99" y="79.7" width="33.6" height="7"/>
<line class="sp" x1="0" y1="19" x2="171" y2="19"/><line class="sp" x1="0" y1="90" x2="171" y2="90"/><line class="vl" x1="98" y1="19" x2="98" y2="90"/>
<rect class="ol" width="171" height="110"/>
<text class="t" x="85.5" y="14.5">Happy to eat seafood</text>
<text class="s"><tspan x="11" y="31.3">A</tspan><tspan x="11" y="45.1">B</tspan><tspan x="11" y="58.9">C</tspan><tspan x="11" y="72.7">D</tspan><tspan x="11" y="86.5">E</tspan></text>
<text class="v"><tspan x="92" y="31.3">31.0</tspan><tspan x="92" y="45.1">26.0</tspan><tspan x="92" y="58.9">14.0</tspan><tspan x="92" y="72.7">6.00</tspan><tspan x="92" y="86.5">23.0</tspan></text>
<text class="f" x="85.5" y="104">0.572 ± 0.31</text>
</g>

<g id="n_marine_safety" transform="translate(1469,892)">
<rect class="bb" width="185" height="109"/>
<rect class="ab" x="113" y="19" width="72" height="71"/>
<line class="g" x1="131" y1="20" x2="131" y2="89"/><line class="g" x1="149" y1="20" x2="149" y2="89"/><line class="g" x1="167" y1="20" x2="167" y2="89"/>
<rect class="r" x="114" y="24.5" width="64.8" height="7"/><rect class="r" x="114" y="38.3" width="7" height="7"/>
<line class="sp" x1="0" y1="19" x2="185" y2="19"/><line class="sp" x1="0" y1="90" x2="185" y2="90"/><line class="vl" x1="113" y1="19" x2="113" y2="90"/>
<rect class="ol" width="185" height="109"/>
<text class="t" x="92.5" y="14.5">Marine safety incidents</text>
<text class="s"><tspan x="11" y="31.3">A</tspan><tspan x="11" y="45.1">B</tspan><tspan x="11" y="58.9">C</tspan><tspan x="11" y="72.7">D</tspan><tspan x="11" y="86.5">E</tspan></text>
<text class="v"><tspan x="107" y="31.3">90.0</tspan><tspan x="107" y="45.1">9.70</tspan><tspan x="107" y="58.9">0.10</tspan><tspan x="107" y="72.7">0.10</tspan><tspan x="107" y="86.5">0.10</tspan></text>
<text class="f" x="92.5" y="104">0.879 ± 0.068</text>
</g>

<g id="n_safe_night" transform="translate(1211,1025)">
<rect class="bb" width="157" height="114"/>
<rect class="ab" x="85" y="19" width="72" height="71"/>
<line class="g" x1="121.5" y1="20" x2="121.5" y2="89"/>
<rect class="r" x="86" y="24.5" width="43.8" height="7"/><rect class="r" x="86" y="38.3" width="38" height="7"/><rect class="r" x="86" y="52.1" width="30.7" height="7"/><rect class="r" x="86" y="65.9" width="14.6" height="7"/><rect class="r" x="86" y="79.7" width="19" height="7"/>
<line class="sp" x1="0" y1="19" x2="157" y2="19"/><line class="sp" x1="0" y1="90" x2="157" y2="90"/><line class="vl" x1="85" y1="19" x2="85" y2="90"/>
<rect class="ol" width="157" height="114"/>
<text class="t" x="78.5" y="14.5">Safe at night</text>
<text class="s"><tspan x="11" y="31.3">A</tspan><tspan x="11" y="45.1">B</tspan><tspan x="11" y="58.9">C</tspan><tspan x="11" y="72.7">D</tspan><tspan x="11" y="86.5">E</tspan></text>
<text class="v"><tspan x="79" y="31.3">30.0</tspan><tspan x="79" y="45.1">26.0</tspan><tspan x="79" y="58.9">21.0</tspan><tspan x="79" y="72.7">10.0</tspan><tspan x="79" y="86.5">13.0</tspan></text>
<text class="f" x="78.5" y="104">0.6 ± 0.27</text>
</g>

<g id="n_oil" transform="translate(1419,1025)">
<rect class="bb" width="156" height="114"/>
<rect class="ab" x="85" y="19" width="71" height="71"/>
<line class="g" x1="109" y1="20" x2="109" y2="89"/><line class="g" x1="133" y1="20" x2="133" y2="89"/>
<rect class="r" x="86" y="24.5" width="57.6" height="7"/><rect class="r" x="86" y="38.3" width="38.1" height="7"/>
<line class="sp" x1="0" y1="19" x2="156" y2="19"/><line class="sp" x1="0" y1="90" x2="156" y2="90"/><line class="vl" x1="85" y1="19" x2="85" y2="90"/>
<rect class="ol" width="156" height="114"/>
<text class="t" x="78" y="14.5">Oil spills</text>
<text class="s"><tspan x="11" y="31.3">A</tspan><tspan x="11" y="45.1">B</tspan><tspan x="11" y="58.9">C</tspan><tspan x="11" y="72.7">D</tspan><tspan x="11" y="86.5">E</tspan></text>
<text class="v"><tspan x="79" y="31.3">60.0</tspan><tspan x="79" y="45.1">39.7</tspan><tspan x="79" y="58.9">0.10</tspan><tspan x="79" y="72.7">0.10</tspan><tspan x="79" y="86.5">0.10</tspan></text>
<text class="f" x="78" y="104">0.819 ± 0.1</text>
</g>
</svg>
